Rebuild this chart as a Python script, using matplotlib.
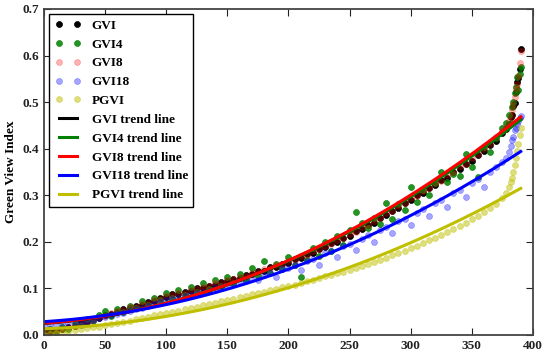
import numpy as np
import matplotlib.pyplot as plt

# rank of sample point (sorted by GVI)
rank = list(range(0, 380, 5)) + [378, 380, 382, 383, 384, 385, 386, 387, 388, 389, 390]

gvi = [
    0.006, 0.009, 0.008, 0.013, 0.016, 0.019, 0.025, 0.027, 0.034, 0.037,
    0.043, 0.046, 0.049, 0.055, 0.057, 0.063, 0.065, 0.071, 0.073, 0.080,
    0.081, 0.087, 0.087, 0.093, 0.094, 0.100, 0.101, 0.106, 0.107, 0.113,
    0.115, 0.121, 0.122, 0.128, 0.130, 0.137, 0.138, 0.145, 0.146, 0.153,
    0.155, 0.163, 0.165, 0.173, 0.176, 0.185, 0.188, 0.197, 0.200, 0.209,
    0.213, 0.223, 0.227, 0.236, 0.241, 0.252, 0.257, 0.267, 0.273, 0.284,
    0.289, 0.300, 0.305, 0.316, 0.321, 0.332, 0.338, 0.350, 0.356, 0.368,
    0.374, 0.387, 0.394, 0.407, 0.417, 0.434,
    0.442, 0.452, 0.468, 0.473, 0.492, 0.498, 0.521, 0.543, 0.552, 0.571, 0.615,
]
gvi4 = [
    0.004, 0.012, 0.006, 0.017, 0.013, 0.024, 0.022, 0.034, 0.030, 0.043,
    0.052, 0.041, 0.056, 0.050, 0.063, 0.058, 0.072, 0.064, 0.080, 0.076,
    0.090, 0.079, 0.096, 0.086, 0.103, 0.093, 0.111, 0.099, 0.118, 0.106,
    0.124, 0.112, 0.131, 0.119, 0.143, 0.126, 0.158, 0.133, 0.152, 0.141,
    0.168, 0.150, 0.125, 0.161, 0.186, 0.170, 0.199, 0.180, 0.212, 0.193,
    0.225, 0.264, 0.240, 0.229, 0.252, 0.238, 0.283, 0.249, 0.281, 0.268,
    0.318, 0.285, 0.312, 0.300, 0.327, 0.350, 0.329, 0.345, 0.341, 0.388,
    0.360, 0.339, 0.404, 0.392, 0.424, 0.445,
    0.455, 0.472, 0.455, 0.490, 0.501, 0.520, 0.532, 0.553, 0.527, 0.560, 0.575,
]
gvi8 = [
    0.008, 0.007, 0.011, 0.012, 0.018, 0.020, 0.023, 0.029, 0.032, 0.039,
    0.041, 0.047, 0.051, 0.053, 0.059, 0.061, 0.067, 0.069, 0.076, 0.078,
    0.084, 0.085, 0.090, 0.091, 0.097, 0.098, 0.104, 0.105, 0.111, 0.112,
    0.118, 0.120, 0.125, 0.127, 0.134, 0.136, 0.141, 0.144, 0.150, 0.152,
    0.159, 0.162, 0.169, 0.172, 0.180, 0.184, 0.192, 0.196, 0.204, 0.208,
    0.217, 0.222, 0.231, 0.236, 0.245, 0.251, 0.262, 0.267, 0.277, 0.283,
    0.294, 0.299, 0.310, 0.315, 0.326, 0.331, 0.344, 0.349, 0.362, 0.368,
    0.380, 0.388, 0.400, 0.410, 0.425, 0.438,
    0.447, 0.460, 0.470, 0.482, 0.495, 0.510, 0.528, 0.538, 0.556, 0.585, 0.610,
]
gvi18 = [
    0.020, 0.024, 0.022, 0.026, 0.025, 0.028, 0.027, 0.031, 0.033, 0.036,
    0.039, 0.043, 0.046, 0.048, 0.052, 0.055, 0.058, 0.062, 0.066, 0.070,
    0.074, 0.077, 0.079, 0.084, 0.086, 0.090, 0.093, 0.095, 0.100, 0.102,
    0.106, 0.110, 0.113, 0.116, 0.121, 0.117, 0.129, 0.133, 0.125, 0.141,
    0.143, 0.150, 0.139, 0.158, 0.164, 0.151, 0.175, 0.180, 0.168, 0.190,
    0.196, 0.182, 0.207, 0.214, 0.200, 0.225, 0.231, 0.218, 0.244, 0.250,
    0.236, 0.262, 0.270, 0.255, 0.284, 0.290, 0.275, 0.304, 0.312, 0.296,
    0.326, 0.335, 0.318, 0.350, 0.360, 0.372,
    0.380, 0.392, 0.405, 0.418, 0.426, 0.440, 0.445, 0.452, 0.460, 0.465, 0.470,
]
pgvi = [
    0.000, 0.002, 0.004, 0.006, 0.008, 0.010, 0.012, 0.014, 0.016, 0.018,
    0.021, 0.023, 0.026, 0.028, 0.031, 0.034, 0.036, 0.039, 0.042, 0.044,
    0.047, 0.050, 0.052, 0.055, 0.058, 0.061, 0.064, 0.066, 0.069, 0.072,
    0.075, 0.078, 0.081, 0.084, 0.087, 0.090, 0.093, 0.096, 0.099, 0.102,
    0.105, 0.108, 0.112, 0.115, 0.119, 0.122, 0.126, 0.129, 0.133, 0.136,
    0.140, 0.144, 0.148, 0.152, 0.157, 0.161, 0.166, 0.171, 0.176, 0.181,
    0.187, 0.192, 0.198, 0.203, 0.209, 0.215, 0.221, 0.227, 0.234, 0.241,
    0.248, 0.255, 0.263, 0.272, 0.282, 0.295,
    0.305, 0.318, 0.328, 0.336, 0.350, 0.365, 0.380, 0.395, 0.410, 0.430, 0.445,
]

names = ["GVI", "GVI4", "GVI8", "GVI18", "PGVI"]
series = [gvi, gvi4, gvi8, gvi18, pgvi]
dot_colors = ["black", (0.0, 0.5, 0.0), "red", "blue", (0.75, 0.75, 0.0)]
dot_alpha = [1.0, 0.85, 0.3, 0.35, 0.5]
line_colors = ["black", (0.0, 0.5, 0.0), "red", "blue", (0.75, 0.75, 0.0)]

plt.rcParams["font.family"] = "Liberation Serif"
plt.rcParams["font.weight"] = "bold"
plt.rcParams["font.size"] = 9.5
plt.rcParams["xtick.direction"] = "in"
plt.rcParams["ytick.direction"] = "in"
plt.rcParams["xtick.top"] = True
plt.rcParams["ytick.right"] = True
plt.rcParams["legend.numpoints"] = 2


def main():
    fig = plt.figure(figsize=(5.5, 3.59), dpi=100)
    ax = fig.add_axes([0.08, 0.067, 0.889, 0.908])
    x = np.array(rank, dtype=float)
    # every kept point stands for the samples around it
    w = np.sqrt(np.gradient(x))
    for name, vals, c, a in zip(names, series, dot_colors, dot_alpha):
        ax.plot(x, vals, "o", color=c, alpha=a, markersize=4.3,
                markeredgewidth=0.5, label=name)
    xs = np.linspace(0, 390, 200)
    for name, vals, c in zip(names, series, line_colors):
        p = np.polyfit(x, vals, 2, w=w)
        ax.plot(xs, np.polyval(p, xs), color=c, linewidth=2.2,
                label=name + " trend line")
    ax.set_xlim(0, 400)
    ax.set_ylim(0, 0.7)
    ax.set_xticks(np.arange(0, 401, 50))
    ax.set_yticks(np.arange(0, 0.71, 0.1))
    ax.yaxis.set_major_formatter(plt.FormatStrFormatter("%.1f"))
    ax.set_ylabel("Green View Index", fontweight="bold")
    ax.tick_params(length=5, width=0.8, colors="#222222")
    for s in ax.spines.values():
        s.set_linewidth(1.3)
        s.set_color("#444444")
    leg = ax.legend(loc="upper left", borderaxespad=0.4, fancybox=False,
                    handlelength=2.0, labelspacing=0.5, framealpha=1)
    leg.get_frame().set_edgecolor("black")
    leg.get_frame().set_linewidth(1.0)
    fig.savefig("out.png", dpi=100)


if __name__ == "__main__":
    main()
